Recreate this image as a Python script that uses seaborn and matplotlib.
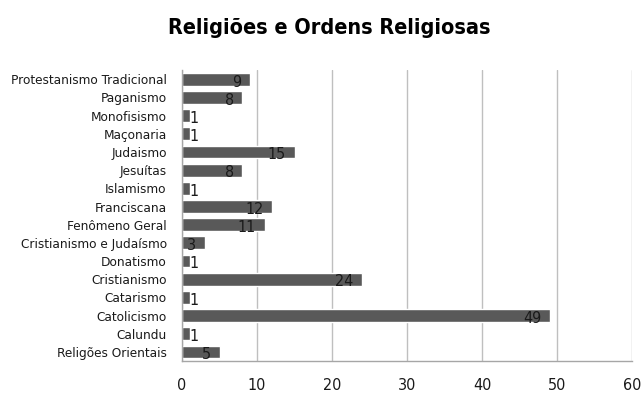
import matplotlib
matplotlib.use("Agg")
import matplotlib.pyplot as plt
import seaborn as sns
import pandas as pd

categories = ["Protestanismo Tradicional", "Paganismo", "Monofisismo", "Maçonaria",
              "Judaismo", "Jesuítas", "Islamismo", "Franciscana", "Fenômeno Geral",
              "Cristianismo e Judaísmo", "Donatismo", "Cristianismo", "Catarismo",
              "Catolicismo", "Calundu", "Religões Orientais"]
values = [9, 8, 1, 1, 15, 8, 1, 12, 11, 3, 1, 24, 1, 49, 1, 5]
x_ticks = [0, 10, 20, 30, 40, 50, 60]
title = "Religiões e Ordens Religiosas"

sns.set_theme(style="white")
plt.rcParams['font.family'] = ['DejaVu Sans']
plt.rcParams['font.stretch'] = 'condensed'

df = pd.DataFrame({"cat": categories, "val": values})

fig = plt.figure(figsize=(6.42, 3.94), dpi=100)
ax = fig.add_axes([0.2835, 0.0838, 0.701, 0.738])
sns.barplot(data=df, y="cat", x="val", orient="h", color="#595959",
            saturation=1, width=0.7, ax=ax, order=categories)

ax.set_xlim(0, 60)
ax.set_xticks(x_ticks)
ax.set_xticklabels([str(t) for t in x_ticks])
ax.set_xlabel("")
ax.set_ylabel("")
ax.grid(axis="x", color="#bfbfbf", linewidth=1)
ax.set_axisbelow(True)
for s in ["top", "right"]:
    ax.spines[s].set_visible(False)
for s in ["left", "bottom"]:
    ax.spines[s].set_color("#a6a6a6")
    ax.spines[s].set_linewidth(1)
ax.tick_params(axis="y", length=0, pad=11, labelsize=9.7, labelcolor="#1a1a1a")
ax.tick_params(axis="x", length=0, pad=12, labelsize=11.5, labelcolor="#1a1a1a")

for i, v in enumerate(values):
    if v >= 3:
        ax.annotate(str(v), (v, i), xytext=(-6, -2), textcoords="offset points",
                    ha="right", va="center", fontsize=11.5, color="#1a1a1a")
    else:
        ax.annotate(str(v), (v, i), xytext=(0, -2), textcoords="offset points",
                    ha="left", va="center", fontsize=11.5, color="#1a1a1a")

fig.text(0.5125, 0.9137, title, ha="center", va="baseline", fontsize=15.5,
         fontweight="bold", color="#000000")

fig.savefig("out.png", dpi=100, facecolor="white")
